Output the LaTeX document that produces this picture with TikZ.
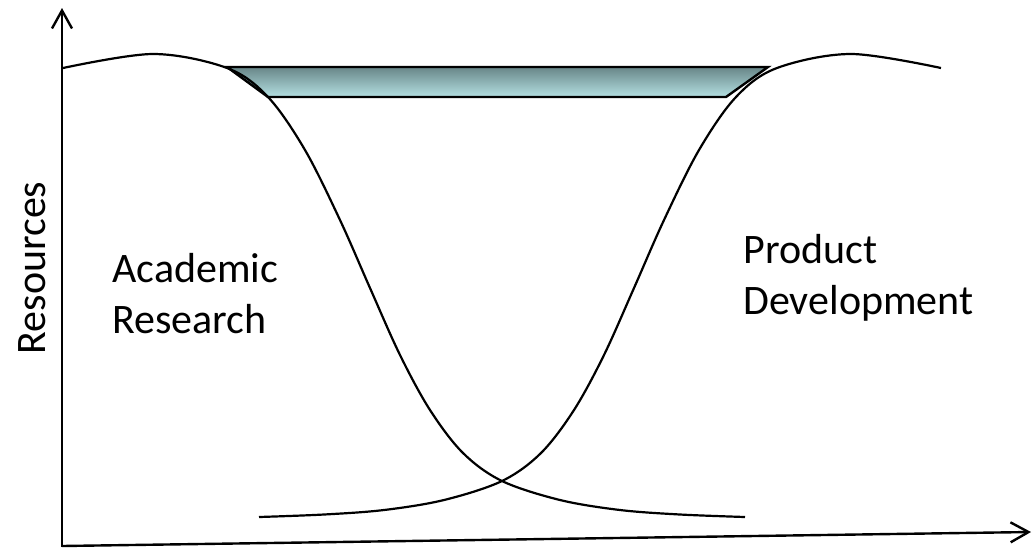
\documentclass[tikz,border=0pt]{standalone}
\usepackage{fontspec}
\setmainfont{Carlito}
\usetikzlibrary{arrows.meta}
\definecolor{trapTop}{RGB}{104,134,136}
\definecolor{trapBot}{RGB}{180,224,226}
\tikzset{
  axisline/.style={line width=1.2pt, -{Straight Barb[length=9pt,width=10pt,line width=1.2pt]}},
  curveline/.style={line width=1.1pt, line join=round},
  trap/.style={line width=1.2pt, top color=trapTop, bottom color=trapBot, line join=miter},
  lbl/.style={font=\fontsize{21}{25.5}\selectfont, inner sep=0pt}
}
\begin{document}
\begin{tikzpicture}[x=0.5pt,y=-0.5pt]
\useasboundingbox (0,0) rectangle (1032,547);
% axes
\coordinate (O) at (62,547);
\coordinate (ytip) at (62,8);
\coordinate (xstart) at (62,546);
\coordinate (xtip) at (1031,532);
\draw[axisline] (O) -- (ytip);
\draw[axisline] (xstart) -- (xtip);
% trapezoid
\draw[trap] (227,67) -- (768,67) -- (726,97) -- (268,97) -- cycle;
% Academic research curve
\draw[curveline] plot[smooth, tension=0.55] coordinates {
 (63,68) (153,54) (227,68) (268,97) (305,150) (340,220) (370,288) (400,355)
 (430,410) (463,453) (502,481) (560,500) (620,510) (680,514.5) (745,517)};
% Product development curve
\draw[curveline] plot[smooth, tension=0.55] coordinates {
 (941,68) (851,54) (777,68) (736,97) (699,150) (664,220) (634,288) (604,355)
 (574,410) (541,453) (502,481) (444,500) (384,510) (324,514.5) (259,517)};
% labels
\node[lbl, anchor=base west] (acad1) at (112,282) {Academic};
\node[lbl, anchor=base west] (acad2) at (112,333) {Research};
\node[lbl, anchor=base west] (prod1) at (743,263) {Product};
\node[lbl, anchor=base west] (prod2) at (743,314) {Development};
\node[lbl, rotate=90, anchor=base] (res) at (45,268) {Resources};
\end{tikzpicture}
\end{document}
